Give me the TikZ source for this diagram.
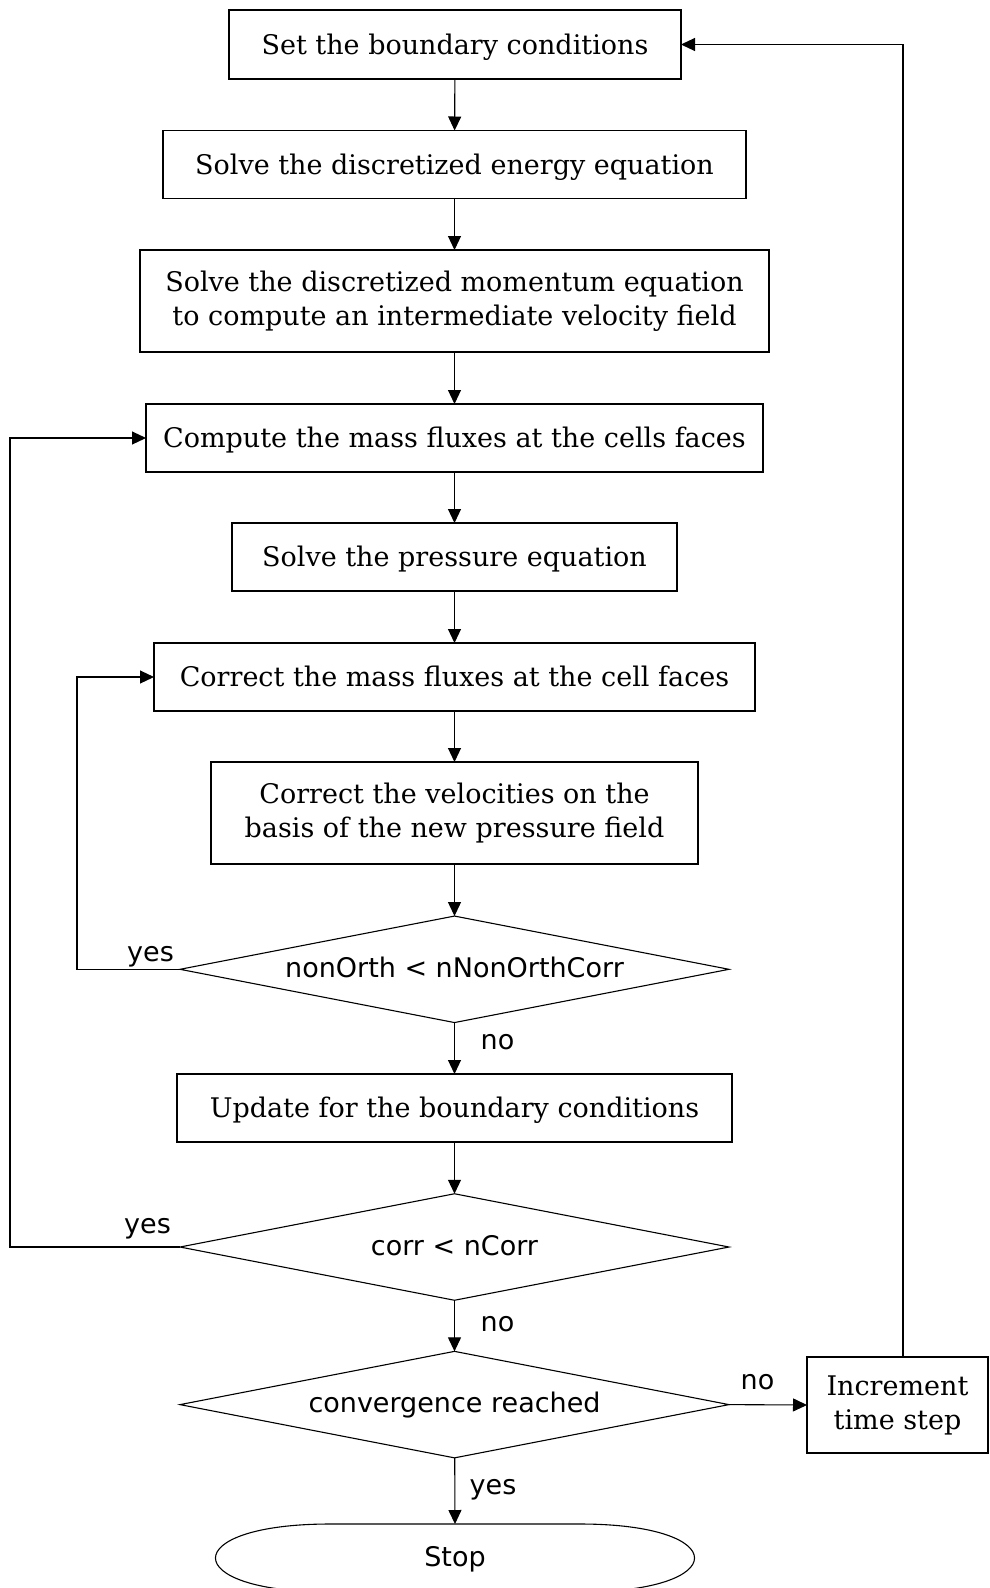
\documentclass[tikz,border=0pt]{standalone}
\usepackage{fontspec}
\setmainfont{DejaVu Serif}
\newfontfamily\lblfont{DejaVu Sans}
\usetikzlibrary{arrows.meta,shapes.geometric}
\begin{document}
\begin{tikzpicture}[x=1pt,y=-1pt,
  line width=1.1pt,
  every node/.style={outer sep=0pt},
  box/.style={draw, rectangle, inner sep=0pt, align=center,
    font=\fontsize{27pt}{34pt}\selectfont},
  onebox/.style={box, text height=22pt, text depth=2.4pt},
  dec/.style={draw, diamond, inner sep=0pt, aspect=5.18,
    minimum width=549pt, minimum height=106.5pt,
    font=\lblfont\fontsize{27pt}{34pt}\selectfont,
    text height=18pt, text depth=2pt},
  lbl/.style={font=\lblfont\fontsize{27pt}{34pt}\selectfont, anchor=base, inner sep=0pt},
  arr/.style={-{Triangle[length=14pt,width=13pt]}}
]
\useasboundingbox (0,0) rectangle (989,1588);

\node[onebox, minimum width=452pt, minimum height=69pt] (b1) at (455,44.5) {Set the boundary conditions};
\node[onebox, minimum width=583pt, minimum height=68pt] (b2) at (454.5,164.5) {Solve the discretized energy equation};
\node[box, minimum width=629pt, minimum height=102pt] (b3) at (454.5,301) {Solve the discretized momentum equation\\to compute an intermediate velocity field};
\node[onebox, minimum width=617pt, minimum height=68pt] (b4) at (454.5,438) {Compute the mass fluxes at the cells faces};
\node[onebox, minimum width=445pt, minimum height=68pt] (b5) at (454.5,557) {Solve the pressure equation};
\node[onebox, minimum width=601pt, minimum height=68pt] (b6) at (454.5,677) {Correct the mass fluxes at the cell faces};
\node[box, minimum width=487pt, minimum height=102pt] (b7) at (454.5,813) {Correct the velocities on the\\basis of the new pressure field};
\node[dec] (d1) at (454.5,969.3) {nonOrth < nNonOrthCorr};
\node[onebox, minimum width=555pt, minimum height=68pt] (b8) at (454.5,1108) {Update for the boundary conditions};
\node[dec] (d2) at (454.5,1247) {corr < nCorr};
\node[dec] (d3) at (454.5,1404.6) {convergence reached};
\node[box, minimum width=181pt, minimum height=96pt] (inc) at (897.5,1405) {Increment\\time step};
\node[font=\lblfont\fontsize{27pt}{34pt}\selectfont, text height=18pt, text depth=2pt,
  minimum width=479pt, minimum height=68pt, inner sep=0pt] (stop) at (455,1558) {Stop};
\draw (330,1524) -- (580,1524) .. controls (732.7,1524) and (732.7,1592) .. (580,1592)
  -- (330,1592) .. controls (177.3,1592) and (177.3,1524) .. (330,1524) -- cycle;

\draw[arr] (b1) -- (b2);
\draw[arr] (b2) -- (b3);
\draw[arr] (b3) -- (b4);
\draw[arr] (b4) -- (b5);
\draw[arr] (b5) -- (b6);
\draw[arr] (b6) -- (b7);
\draw[arr] (b7) -- (d1);
\draw[arr] (d1) -- (b8);
\draw[arr] (b8) -- (d2);
\draw[arr] (d2) -- (d3);
\draw[arr] (d3) -- (stop.north);
\draw[arr] (d1.west) -- ++(-103,0) |- (b6.west);
\draw[arr] (d2.west) -- ++(-170,0) |- (b4.west);
\draw[arr] (d3.east) -- (inc.west);
\draw[arr] ([xshift=5.5pt]inc.north) |- (b1.east);

\node[lbl] (y1) at (150.5,961) {yes};
\node[lbl] (n1) at (497.5,1049.3) {no};
\node[lbl] (y2) at (147.5,1233.3) {yes};
\node[lbl] (n2) at (497.5,1331.8) {no};
\node[lbl] (n3) at (757.5,1389.3) {no};
\node[lbl] (y3) at (493,1494) {yes};
\end{tikzpicture}
\end{document}
